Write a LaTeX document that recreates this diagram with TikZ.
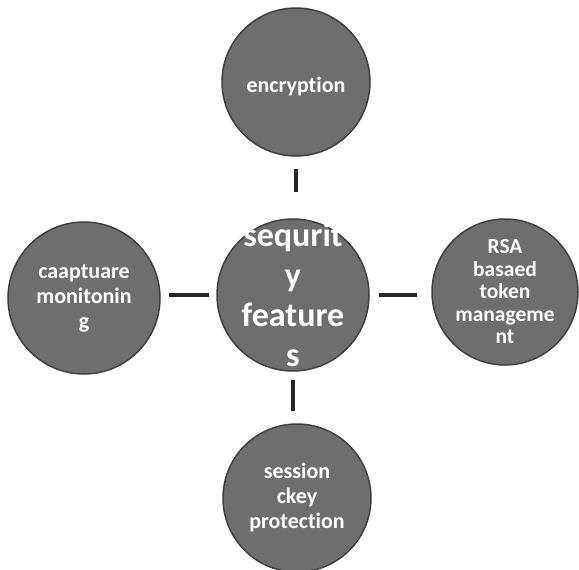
\documentclass[tikz,border=0pt]{standalone}
\usepackage{fontspec}
\setmainfont[Ligatures=NoCommon]{Carlito}
\begin{document}
\begin{tikzpicture}[x=1pt,y=-1pt,
  bubble/.style={circle,draw=black!75,line width=1.5pt,fill=black!57,
    inner sep=0pt,minimum size=#1},
  bubble/.default=148pt,
  txt/.style={text=white,align=center,inner sep=0pt},
  small/.style={txt,font=\bfseries\fontsize{22}{25}\selectfont},
  tight/.style={txt,font=\bfseries\fontsize{21.5}{22.5}\selectfont},
  big/.style={txt,font=\bfseries\fontsize{34}{40}\selectfont},
  link/.style={line width=3.5pt,draw=black!85}]
\useasboundingbox[fill=white] (0,0) rectangle (579,570);
\node[bubble] (enc) at (296,82) {};
\node[bubble=152pt] (sec) at (293,295) {};
\node[bubble=152pt] (cap) at (84,298) {};
\node[bubble=146pt] (rsa) at (505,292) {};
\node[bubble] (ses) at (297,498) {};
\node[small] (enct) at ([yshift=-5pt]enc.center) {encryption};
\node[big] (sect) at (sec) {sequrit\\y\\feature\\s};
\node[small] (capt) at (cap) {caaptuare\\monitonin\\g};
\node[tight] (rsat) at (rsa) {RSA\\basaed\\token\\manageme\\nt};
\node[small] (sest) at (ses) {session\\ckey\\protection};
\draw[link] ([yshift=-12pt]enc.south) -- ([yshift=26pt]enc.south |- sec.north);
\draw[link] ([yshift=-8pt]sec.south) -- ([yshift=12pt]sec.south |- ses.north);
\draw[link] ([xshift=8pt]cap.east |- sec.west) -- ([xshift=-7pt]sec.west);
\draw[link] ([xshift=9pt]sec.east) -- ([xshift=-14pt]rsa.west |- sec.east);
\end{tikzpicture}
\end{document}
